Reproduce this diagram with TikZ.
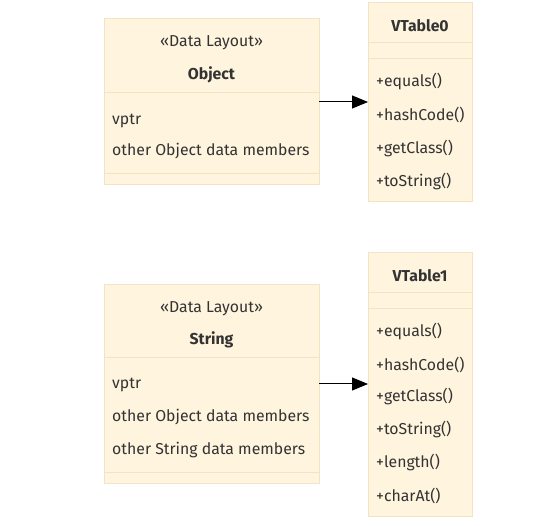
\documentclass[tikz,border=0pt]{standalone}
\usepackage{fontspec}
\setmainfont{Fira Sans}
\usetikzlibrary{arrows.meta}
\definecolor{boxfill}{HTML}{FFF4DD}
\definecolor{boxline}{HTML}{F3E3C3}
\definecolor{txt}{HTML}{333333}
\tikzset{
  cls/.style={draw=boxline, fill=boxfill, line width=1pt},
  sep/.style={draw=boxline, line width=1pt},
  lbl/.style={text=txt, font=\fontsize{15.8}{18}\selectfont, inner sep=0pt, yshift=-1.5pt},
  lft/.style={lbl, anchor=west},
  ttl/.style={lbl, font=\fontsize{15.8}{18}\selectfont\bfseries},
  conn/.style={-{Triangle[length=16pt,width=13pt]}, line width=1pt, black},
}
\begin{document}
\begin{tikzpicture}[x=1pt,y=-1pt]
\useasboundingbox (0,0) rectangle (558,526);
% Object
\path[cls] (104,19) rectangle (319,185);
\draw[sep] (104,93) -- (319,93);
\draw[sep] (104,174) -- (319,174);
\node[lbl] (objst) at (211.5,41) {«Data Layout»};
\node[ttl] (objt) at (211.5,73) {Object};
\node[lft] (objf1) at (112,119) {vptr};
\node[lft] (objf2) at (112,150) {other Object data members};
% VTable0
\path[cls] (368,3) rectangle (472,202);
\draw[sep] (368,43) -- (472,43);
\draw[sep] (368,59) -- (472,59);
\node[ttl] (vt0) at (420,24) {VTable0};
\node[lft] (v0m1) at (376,80) {+equals()};
\node[lft] (v0m2) at (376,113) {+hashCode()};
\node[lft] (v0m3) at (376,147) {+getClass()};
\node[lft] (v0m4) at (376,180) {+toString()};
% String
\path[cls] (104,285) rectangle (319,484);
\draw[sep] (104,358) -- (319,358);
\draw[sep] (104,473) -- (319,473);
\node[lbl] (strst) at (211.5,307) {«Data Layout»};
\node[ttl] (strt) at (211.5,338) {String};
\node[lft] (strf1) at (112,383) {vptr};
\node[lft] (strf2) at (112,416) {other Object data members};
\node[lft] (strf3) at (112,449) {other String data members};
% VTable1
\path[cls] (368,253) rectangle (472,517);
\draw[sep] (368,293) -- (472,293);
\draw[sep] (368,309) -- (472,309);
\node[ttl] (vt1) at (420,274) {VTable1};
\node[lft] (v1m1) at (376,330) {+equals()};
\node[lft] (v1m2) at (376,363) {+hashCode()};
\node[lft] (v1m3) at (376,395) {+getClass()};
\node[lft] (v1m4) at (376,428) {+toString()};
\node[lft] (v1m5) at (376,461) {+length()};
\node[lft] (v1m6) at (376,494) {+charAt()};
% connectors
\coordinate (a0s) at (319,102);
\coordinate (a0e) at (368,102);
\coordinate (a1s) at (319,384);
\coordinate (a1e) at (368,384);
\draw[conn] (a0s) -- (a0e);
\draw[conn] (a1s) -- (a1e);
\end{tikzpicture}
\end{document}
